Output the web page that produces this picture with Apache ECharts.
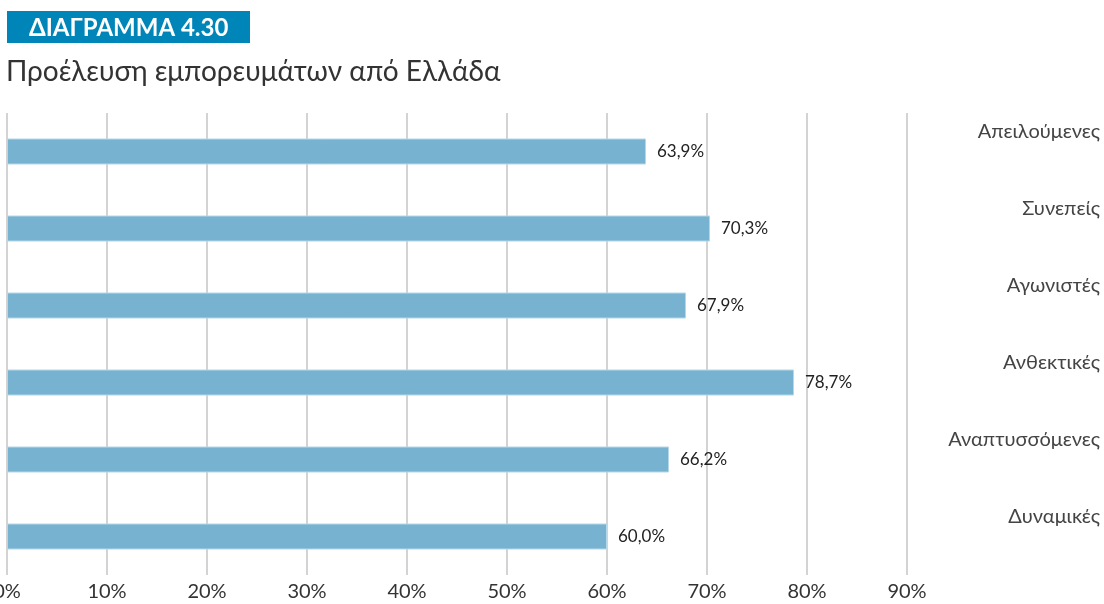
<!DOCTYPE html>
<html><head><meta charset="utf-8">
<script src="https://cdn.jsdelivr.net/npm/echarts@6/dist/echarts.min.js"></script>
<style>html,body{margin:0;padding:0;background:#fff}#c{width:1104px;height:604px}</style>
</head><body><div id="c"></div>
<script>
const categories = ['Απειλούμενες','Συνεπείς','Αγωνιστές','Ανθεκτικές','Αναπτυσσόμενες','Δυναμικές'];
const values = [63.9, 70.3, 67.9, 78.7, 66.2, 60.0];
const xTicks = [0,10,20,30,40,50,60,70,80,90];
const chartLabel = 'ΔΙΑΓΡΑΜΜΑ 4.30';
const chartTitle = 'Προέλευση εμπορευμάτων από Ελλάδα';

const FONT = 'Lato, "Noto Sans", sans-serif';
const chart = echarts.init(document.getElementById('c'), null, {renderer:'canvas'});
chart.setOption({
  animation:false,
  textStyle:{fontFamily:FONT},
  graphic:[
    {type:'rect', shape:{x:7,y:11,width:243,height:32}, style:{fill:'#0085b8'}},
    {type:'text', x:29, y:28, style:{text:chartLabel, fill:'#fff', font:'bold 24px '+FONT, textVerticalAlign:'middle'}},
    {type:'text', x:6, y:72, style:{text:chartTitle, fill:'#333', font:'28px '+FONT, textVerticalAlign:'middle'}}
  ],
  grid:{left:7, top:113, width:900, height:462, containLabel:false, outerBoundsMode:'none'},
  xAxis:{
    type:'value', min:xTicks[0], max:xTicks[xTicks.length-1], interval:10,
    axisLine:{show:false}, axisTick:{show:false},
    splitLine:{show:true, lineStyle:{color:'#c4c4c4', width:1.5}},
    axisLabel:{formatter:v=>v+'%', color:'#333', fontSize:20, margin:7, fontFamily:FONT}
  },
  yAxis:{
    type:'category', data:categories, inverse:true, position:'right',
    axisLine:{show:false}, axisTick:{show:false},
    axisLabel:{align:'right', margin:193, color:'#444', fontSize:20, fontFamily:FONT, verticalAlign:'bottom', lineHeight:40}
  },
  series:[{
    type:'bar', data:values, barWidth:26,
    itemStyle:{color:'#77b3d1', borderColor:'#b5d7e8', borderWidth:1},
    label:{show:true, position:'right', distance:11, color:'#222', fontSize:17, fontFamily:FONT,
      formatter:p=>p.value.toFixed(1).replace('.',',')+'%'}
  }]
});
</script></body></html>
